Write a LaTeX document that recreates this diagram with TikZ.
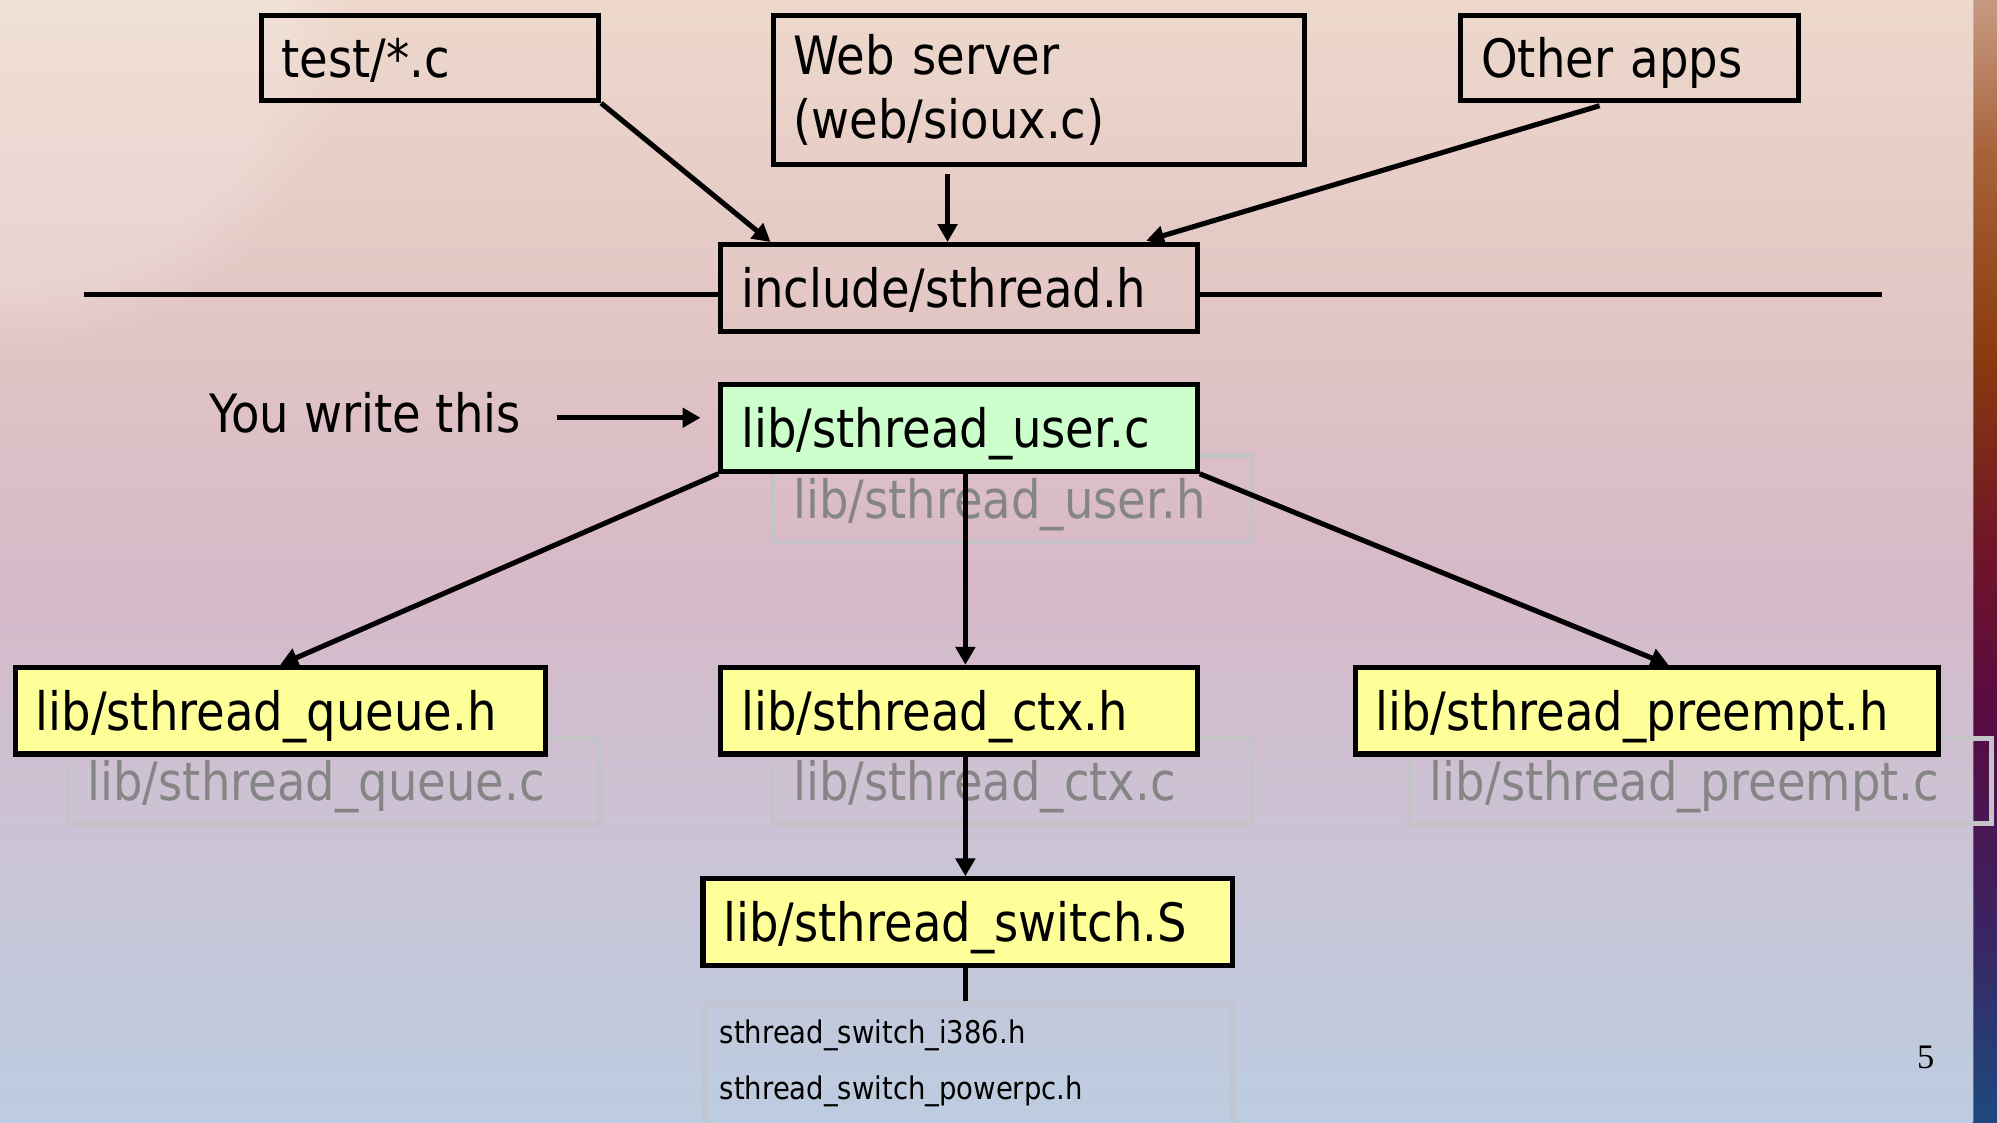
\documentclass[tikz,border=0pt]{standalone}
\usepackage{fontspec}
\setmainfont{DejaVu Sans}[FakeStretch=0.88]
\newfontfamily\numfont{Liberation Serif}
\usetikzlibrary{arrows.meta,calc,fadings}

\definecolor{bgA}{HTML}{EDD8CB}
\definecolor{bgB}{HTML}{E2C6C4}
\definecolor{bgC}{HTML}{D7B9C8}
\definecolor{bgD}{HTML}{CBC3D5}
\definecolor{bgE}{HTML}{BDCCE0}
\definecolor{hdrfill}{HTML}{FFFF99}
\definecolor{userfill}{HTML}{CCFFCC}
\definecolor{ghostline}{HTML}{C4C4C8}
\definecolor{ghosttext}{HTML}{858585}
\definecolor{stripA}{HTML}{C69A82}
\definecolor{stripB}{HTML}{A8623A}
\definecolor{stripC}{HTML}{8A3A0E}
\definecolor{stripD}{HTML}{701428}
\definecolor{stripE}{HTML}{580A42}
\definecolor{stripF}{HTML}{3A2462}
\definecolor{stripG}{HTML}{1C4A7E}

\newcommand{\bigtext}{\fontsize{41.5bp}{50bp}\selectfont}
\newcommand{\smalltext}{\fontsize{24.5bp}{28bp}\selectfont}

\tikzset{
  filebox/.style={draw=black, line width=4bp, rectangle, anchor=north west,
    inner xsep=16bp, inner ysep=0pt, align=left, font=\bigtext, text=black},
  oneline/.style={text height=33bp, text depth=2bp},
  ghostbox/.style={draw=ghostline, line width=3.5bp, rectangle, anchor=north west,
    inner xsep=16bp, inner ysep=0pt, align=left, font=\bigtext, text=ghosttext,
    text height=33bp, text depth=2bp},
  conn/.style={line width=4bp, -{Triangle[length=14bp,width=15bp]}},
  plainline/.style={line width=4bp},
}

\begin{document}
\begin{tikzpicture}[x=1bp,y=-1bp]
  \clip (0,0) rectangle (1568,881);
  \useasboundingbox (0,0) rectangle (1568,881);

  % slide background, in vertical bands
  \shade[top color=bgA, bottom color=bgB] (0,0) rectangle (1568,251);
  \shade[top color=bgB, bottom color=bgC] (0,250) rectangle (1568,451);
  \shade[top color=bgC, bottom color=bgD] (0,450) rectangle (1568,651);
  \shade[top color=bgD, bottom color=bgE] (0,650) rectangle (1568,881);
  \fill[white, opacity=0.2, path fading=circle with fuzzy edge 20 percent] (0,0) circle (280);

  % coloured edge strip
  \shade[top color=stripA, bottom color=stripB] (1549,0) rectangle (1568,121);
  \shade[top color=stripB, bottom color=stripC] (1549,120) rectangle (1568,281);
  \shade[top color=stripC, bottom color=stripD] (1549,280) rectangle (1568,431);
  \shade[top color=stripD, bottom color=stripE] (1549,430) rectangle (1568,561);
  \shade[top color=stripE, bottom color=stripF] (1549,560) rectangle (1568,731);
  \shade[top color=stripF, bottom color=stripG] (1549,730) rectangle (1568,881);
  \draw[white, opacity=0.25, line width=1.5bp] (1549,0) -- (1549,881);

  % implementation files shown behind the headers
  \node[ghostbox, text width=344bp, minimum height=68bp] (userh) at (605,356) {lib/sthread\_user.h};
  \node[ghostbox, text width=386bp, minimum height=67bp] (queuec) at (51,578) {lib/sthread\_queue.c};
  \node[ghostbox, text width=344bp, minimum height=67bp] (ctxc) at (605,578) {lib/sthread\_ctx.c};
  \node[ghostbox, text width=425bp, minimum height=67bp] (preemptc) at (1105,578) {lib/sthread\_preempt.c};
  \node[draw=ghostline, draw opacity=0.6, line width=4bp, rectangle, anchor=north west,
        minimum width=415bp, minimum height=140bp, inner sep=0pt] (variants) at (551,786) {};
  \node[anchor=base west, font=\smalltext, inner sep=0pt] (i386) at (565,819) {sthread\_switch\_i386.h};
  \node[anchor=base west, font=\smalltext, inner sep=0pt] (ppc) at (565,863) {sthread\_switch\_powerpc.h};

  % clients of the library
  \node[filebox, oneline, text width=233bp, minimum height=67bp] (test) at (203,10) {test/*.c};
  \node[filebox, text width=385bp, minimum height=117bp] (web) at (605,10) {Web server\\(web/sioux.c)};
  \node[filebox, oneline, text width=233bp, minimum height=67bp] (other) at (1145,10) {Other apps};

  % public interface
  \node[filebox, oneline, text width=342bp, minimum height=68bp] (inc) at (564,190) {include/sthread.h};

  % library internals
  \node[filebox, oneline, fill=userfill, text width=342bp, minimum height=68bp] (user) at (564,300) {lib/sthread\_user.c};
  \node[filebox, oneline, fill=hdrfill, text width=384bp, minimum height=68bp] (queue) at (10,522) {lib/sthread\_queue.h};
  \node[filebox, oneline, fill=hdrfill, text width=342bp, minimum height=68bp] (ctx) at (564,522) {lib/sthread\_ctx.h};
  \node[filebox, oneline, fill=hdrfill, text width=426bp, minimum height=68bp] (preempt) at (1062,522) {lib/sthread\_preempt.h};
  \node[filebox, oneline, fill=hdrfill, text width=384bp, minimum height=68bp] (switch) at (550,688) {lib/sthread\_switch.S};

  \node[anchor=west, font=\bigtext, inner sep=0pt] (you) at (164,324) {You write this};
  \node[font=\numfont\fontsize{27bp}{30bp}\selectfont, inner sep=0pt] (pagenum) at (1512,830) {5};

  % interface boundary
  \coordinate (lineL) at (66,231);
  \coordinate (lineR) at (1478,231);
  \draw[plainline] (lineL) -- (lineL -| inc.west);
  \draw[plainline] (lineR -| inc.east) -- (lineR);

  % connectors
  \draw[conn] (test.south east) -- ($(inc.north west)+(41,0)$);
  \draw[conn] ($(web.south west)+(139,6)$) -- ($(inc.north west)+(180,0)$);
  \draw[conn] ($(other.south west)+(111,2)$) -- ($(inc.north west)+(336,-1)$);
  \draw[conn, shorten >=14bp] ($(you.east)+(28,4)$) -- ($(you.east -| user.west)+(0,4)$);
  \draw[conn] (user.south west) -- ($(queue.north west)+(210,0)$);
  \draw[conn] ($(user.south west)+(194,0)$) -- ($(ctx.north west)+(194,0)$);
  \draw[conn] (user.south east) -- ($(preempt.north west)+(248,0)$);
  \draw[conn] ($(ctx.south west)+(194,0)$) -- ($(switch.north west)+(208,0)$);
  \draw[plainline] ($(switch.south west)+(208,0)$) -- ($(variants.north west)+(207,0)$);
\end{tikzpicture}
\end{document}
